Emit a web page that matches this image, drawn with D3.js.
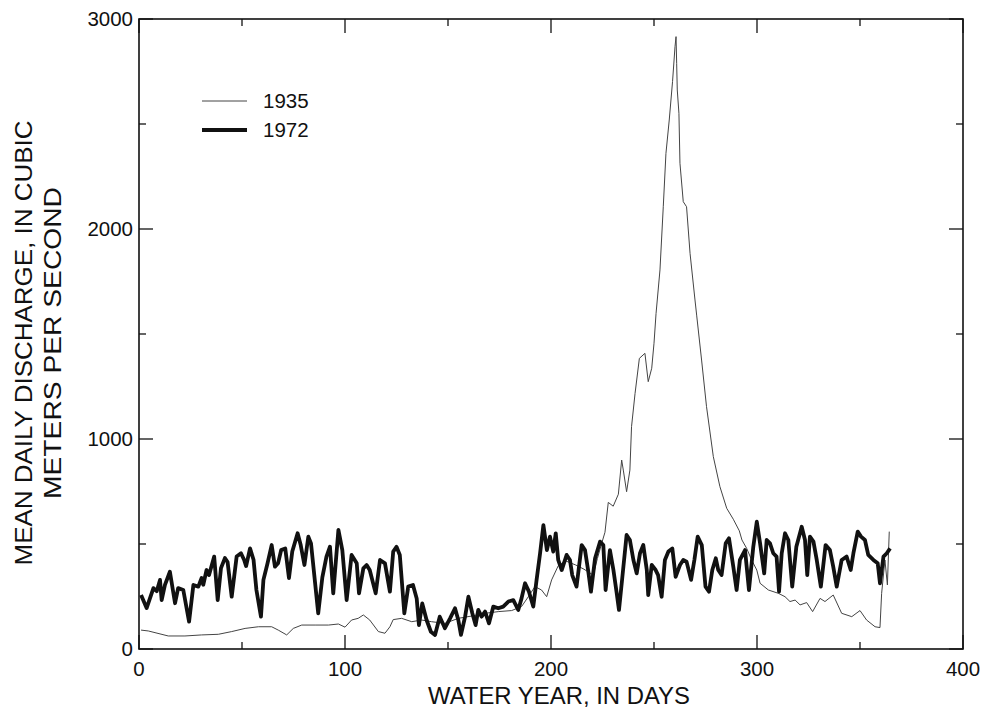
<!DOCTYPE html>
<html><head><meta charset="utf-8">
<script src="https://cdn.jsdelivr.net/npm/d3@7"></script>
<style>body{margin:0;background:#fff}svg{display:block}text{font-family:"Liberation Sans",Arial,sans-serif;fill:#111}</style>
</head><body>
<script>
// ---- data ----
const xTicks = [0, 100, 200, 300, 400];
const yTicks = [0, 1000, 2000, 3000];
const seriesNames = ["1935", "1972"];

const days1935 = [1,4.5,14.2,22.3,30.4,38.5,45,51.5,58,64.4,67.6,71.7,74.9,79,85.5,92,96.8,100,103.2,106.4,108.9,112,116.2,119.4,121.8,123.4,127.5,132.4,137.2,142,148.5,155,161.5,168,174.4,180.9,185.7,189,192.2,195.4,197.9,200.3,203.5,207,212,216,220.5,222.5,224.6,226.2,227.8,230.2,232.7,234.3,235.1,236.7,238.3,239.1,240.8,242.9,245.6,247.2,248.9,250,251,252.9,254.5,255.8,257.4,259,260.2,260.7,261,261.3,262.1,262.6,264.2,265.8,267.5,269.9,270.7,273.1,275.5,278.8,282,285.3,288.5,291.4,292.7,295,297.4,299.9,301.5,305.5,310.4,313.6,316,318.5,320.9,324.1,327,330.6,333,337,341.1,346,350,353.2,357.3,359.7,360.5,362.1,363.3,364.2];
const vals1935 = [90,86,62,62,67,70,83,98,106,106,90,67,98,114,114,114,119,104,138,146,162,138,83,75,106,140,146,130,138,130,122,146,157,170,178,183,202,249,297,281,249,329,396,420,400,380,352,430,503,556,698,680,737,900,852,749,852,1059,1217,1384,1408,1273,1337,1456,1598,1805,2106,2360,2519,2702,2868,2916,2789,2662,2551,2313,2130,2106,1884,1662,1590,1376,1154,916,773,670,618,563,519,479,424,376,313,281,265,249,226,233,210,221,178,241,226,257,170,154,183,138,106,102,265,424,305,559];

const days1972 = [1,3.7,7,8.6,10.2,11,12.6,15,17.5,19,21.5,24.3,26.4,28.8,30.4,31.2,32.8,34,36.5,38.2,39.8,41.7,43,45,47.4,49.5,51,52,53.9,55.6,57,59.2,60.4,62.4,64.4,66,67.5,69,71,72.8,74.4,77,78.5,80.3,82.2,83.5,87,89,91,92.7,94.3,96.8,98.7,100.8,103.2,105.7,106.8,108.9,110.5,112,114.9,117,119.4,121.8,123.4,125,126.6,128.8,130.7,133,134.8,135.9,137.5,139.6,141.7,143.7,146,148.5,151,153.4,155,156.3,158.3,159.9,161.8,163.4,164.7,166.3,168,169.9,172,174.4,176.8,179.3,181.7,184.1,185.7,187.4,189.3,191.4,193,194.7,196.3,198,199.5,201.1,202.3,203.5,205.2,207.6,209.2,210.3,212.4,214.9,216.5,218,219.4,221.4,223.8,225.4,226.5,228.6,230.3,231.9,233,234.5,236.7,238.3,240,241.6,243.2,244.8,246.5,247.2,248.9,250.8,252,253.7,255.3,257,258.9,260.5,262.6,264.2,265.8,268,269.6,271.2,273.2,275,276.7,278.3,280,281.2,282.8,284.8,286.4,288.5,290.1,291.7,294.2,296.1,298.2,299.9,301.5,303.5,304.7,306.3,307.9,309.5,310.7,312,313.6,315.2,317.1,319.1,321.7,323.3,324.4,325.7,327.4,329,331,333.3,335.4,337,338.7,341.1,343.5,345.5,346.8,348.9,350.5,352.4,354,356.5,358.6,359.7,361.4,363,364.6];
const vals1972 = [257,195,290,275,329,233,305,368,218,290,281,130,305,297,338,306,376,352,440,233,385,433,414,249,440,456,425,395,479,425,281,154,329,408,495,392,408,471,479,338,464,551,495,400,535,503,170,341,440,487,265,567,471,233,448,408,265,384,400,376,265,424,408,273,464,487,448,170,297,305,241,114,217,138,82,67,154,99,146,194,138,67,154,249,170,114,186,154,178,122,202,194,202,226,233,186,241,313,273,202,329,456,590,471,535,464,551,424,376,448,424,352,297,495,471,376,273,432,511,495,281,471,376,265,186,329,543,519,424,360,456,495,376,257,400,376,352,249,424,464,479,344,400,424,416,329,424,535,495,297,273,376,432,376,352,503,527,392,281,424,471,281,487,606,503,360,519,503,456,440,273,456,551,519,297,487,582,519,352,535,511,424,297,495,471,392,297,424,440,376,456,559,535,519,448,424,408,313,440,456,479];

const xTitle = "WATER YEAR, IN DAYS";
const yTitle1 = "MEAN DAILY DISCHARGE, IN CUBIC";
const yTitle2 = "METERS PER SECOND";

// ---- drawing ----
const W = 984, H = 715;
const L = 139, R = 963, T = 19, B = 649;
const svg = d3.select("body").append("svg").attr("width", W).attr("height", H);
const x = d3.scaleLinear().domain([0, 400]).range([L, R]);
const y = d3.scaleLinear().domain([0, 3000]).range([B, T]);

const tickCol = "#111";
const xt = d3.range(0, 401, 50);
const yt = d3.range(0, 3001, 500);
const tg = svg.append("g").attr("stroke", tickCol).attr("stroke-width", 1.3);
xt.forEach(v => {
  const len = v % 100 === 0 ? 14 : 7;
  tg.append("line").attr("x1", x(v)).attr("x2", x(v)).attr("y1", B).attr("y2", B - len);
  tg.append("line").attr("x1", x(v)).attr("x2", x(v)).attr("y1", T).attr("y2", T + len);
});
yt.forEach(v => {
  const len = v % 1000 === 0 ? 14 : 7;
  tg.append("line").attr("y1", y(v)).attr("y2", y(v)).attr("x1", L).attr("x2", L + len);
  tg.append("line").attr("y1", y(v)).attr("y2", y(v)).attr("x1", R).attr("x2", R - len);
});

svg.append("rect").attr("x", L).attr("y", T).attr("width", R - L).attr("height", B - T)
  .attr("fill", "none").attr("stroke", "#111").attr("stroke-width", 1.6);

// tick labels
svg.append("g").selectAll("text").data(xTicks).join("text")
  .attr("x", d => x(d)).attr("y", B + 27).attr("text-anchor", "middle")
  .attr("font-size", 20.5).text(d => d);
svg.append("g").selectAll("text").data(yTicks).join("text")
  .attr("x", L - 6).attr("y", d => y(d) + 7).attr("text-anchor", "end")
  .attr("font-size", 20.5).text(d => d);

// titles
svg.append("text").attr("x", (428 + 690) / 2).attr("y", 704).attr("text-anchor", "middle")
  .attr("font-size", 23).attr("textLength", 262).attr("lengthAdjust", "spacingAndGlyphs").text(xTitle);
svg.append("text").attr("transform", "translate(32,343) rotate(-90)").attr("text-anchor", "middle")
  .attr("font-size", 23).attr("textLength", 445).attr("lengthAdjust", "spacingAndGlyphs").text(yTitle1);
svg.append("text").attr("transform", "translate(61,343) rotate(-90)").attr("text-anchor", "middle")
  .attr("font-size", 23).attr("textLength", 312).attr("lengthAdjust", "spacingAndGlyphs").text(yTitle2);

// lines
const line = d3.line().x(d => x(d[0])).y(d => y(d[1])).curve(d3.curveLinear);
const s1935 = days1935.map((d, i) => [d, vals1935[i]]);
const s1972 = days1972.map((d, i) => [d, vals1972[i]]);
svg.append("path").datum(s1935).attr("d", line).attr("fill", "none")
  .attr("stroke", "#444").attr("stroke-width", 1.0).attr("stroke-linejoin", "round");
svg.append("path").datum(s1972).attr("d", line).attr("fill", "none")
  .attr("stroke", "#111").attr("stroke-width", 3.8).attr("stroke-linejoin", "round");

// legend
const lg = svg.append("g");
const legendStyles = [{w: 1.0, c: "#444"}, {w: 3.8, c: "#111"}];
seriesNames.forEach((n, i) => {
  const yy = 101 + i * 29;
  lg.append("line").attr("x1", 202).attr("x2", 247).attr("y1", yy).attr("y2", yy)
    .attr("stroke", legendStyles[i].c).attr("stroke-width", legendStyles[i].w);
  lg.append("text").attr("x", 263).attr("y", yy + 7).attr("font-size", 20.5).text(n);
});
</script>
</body></html>
